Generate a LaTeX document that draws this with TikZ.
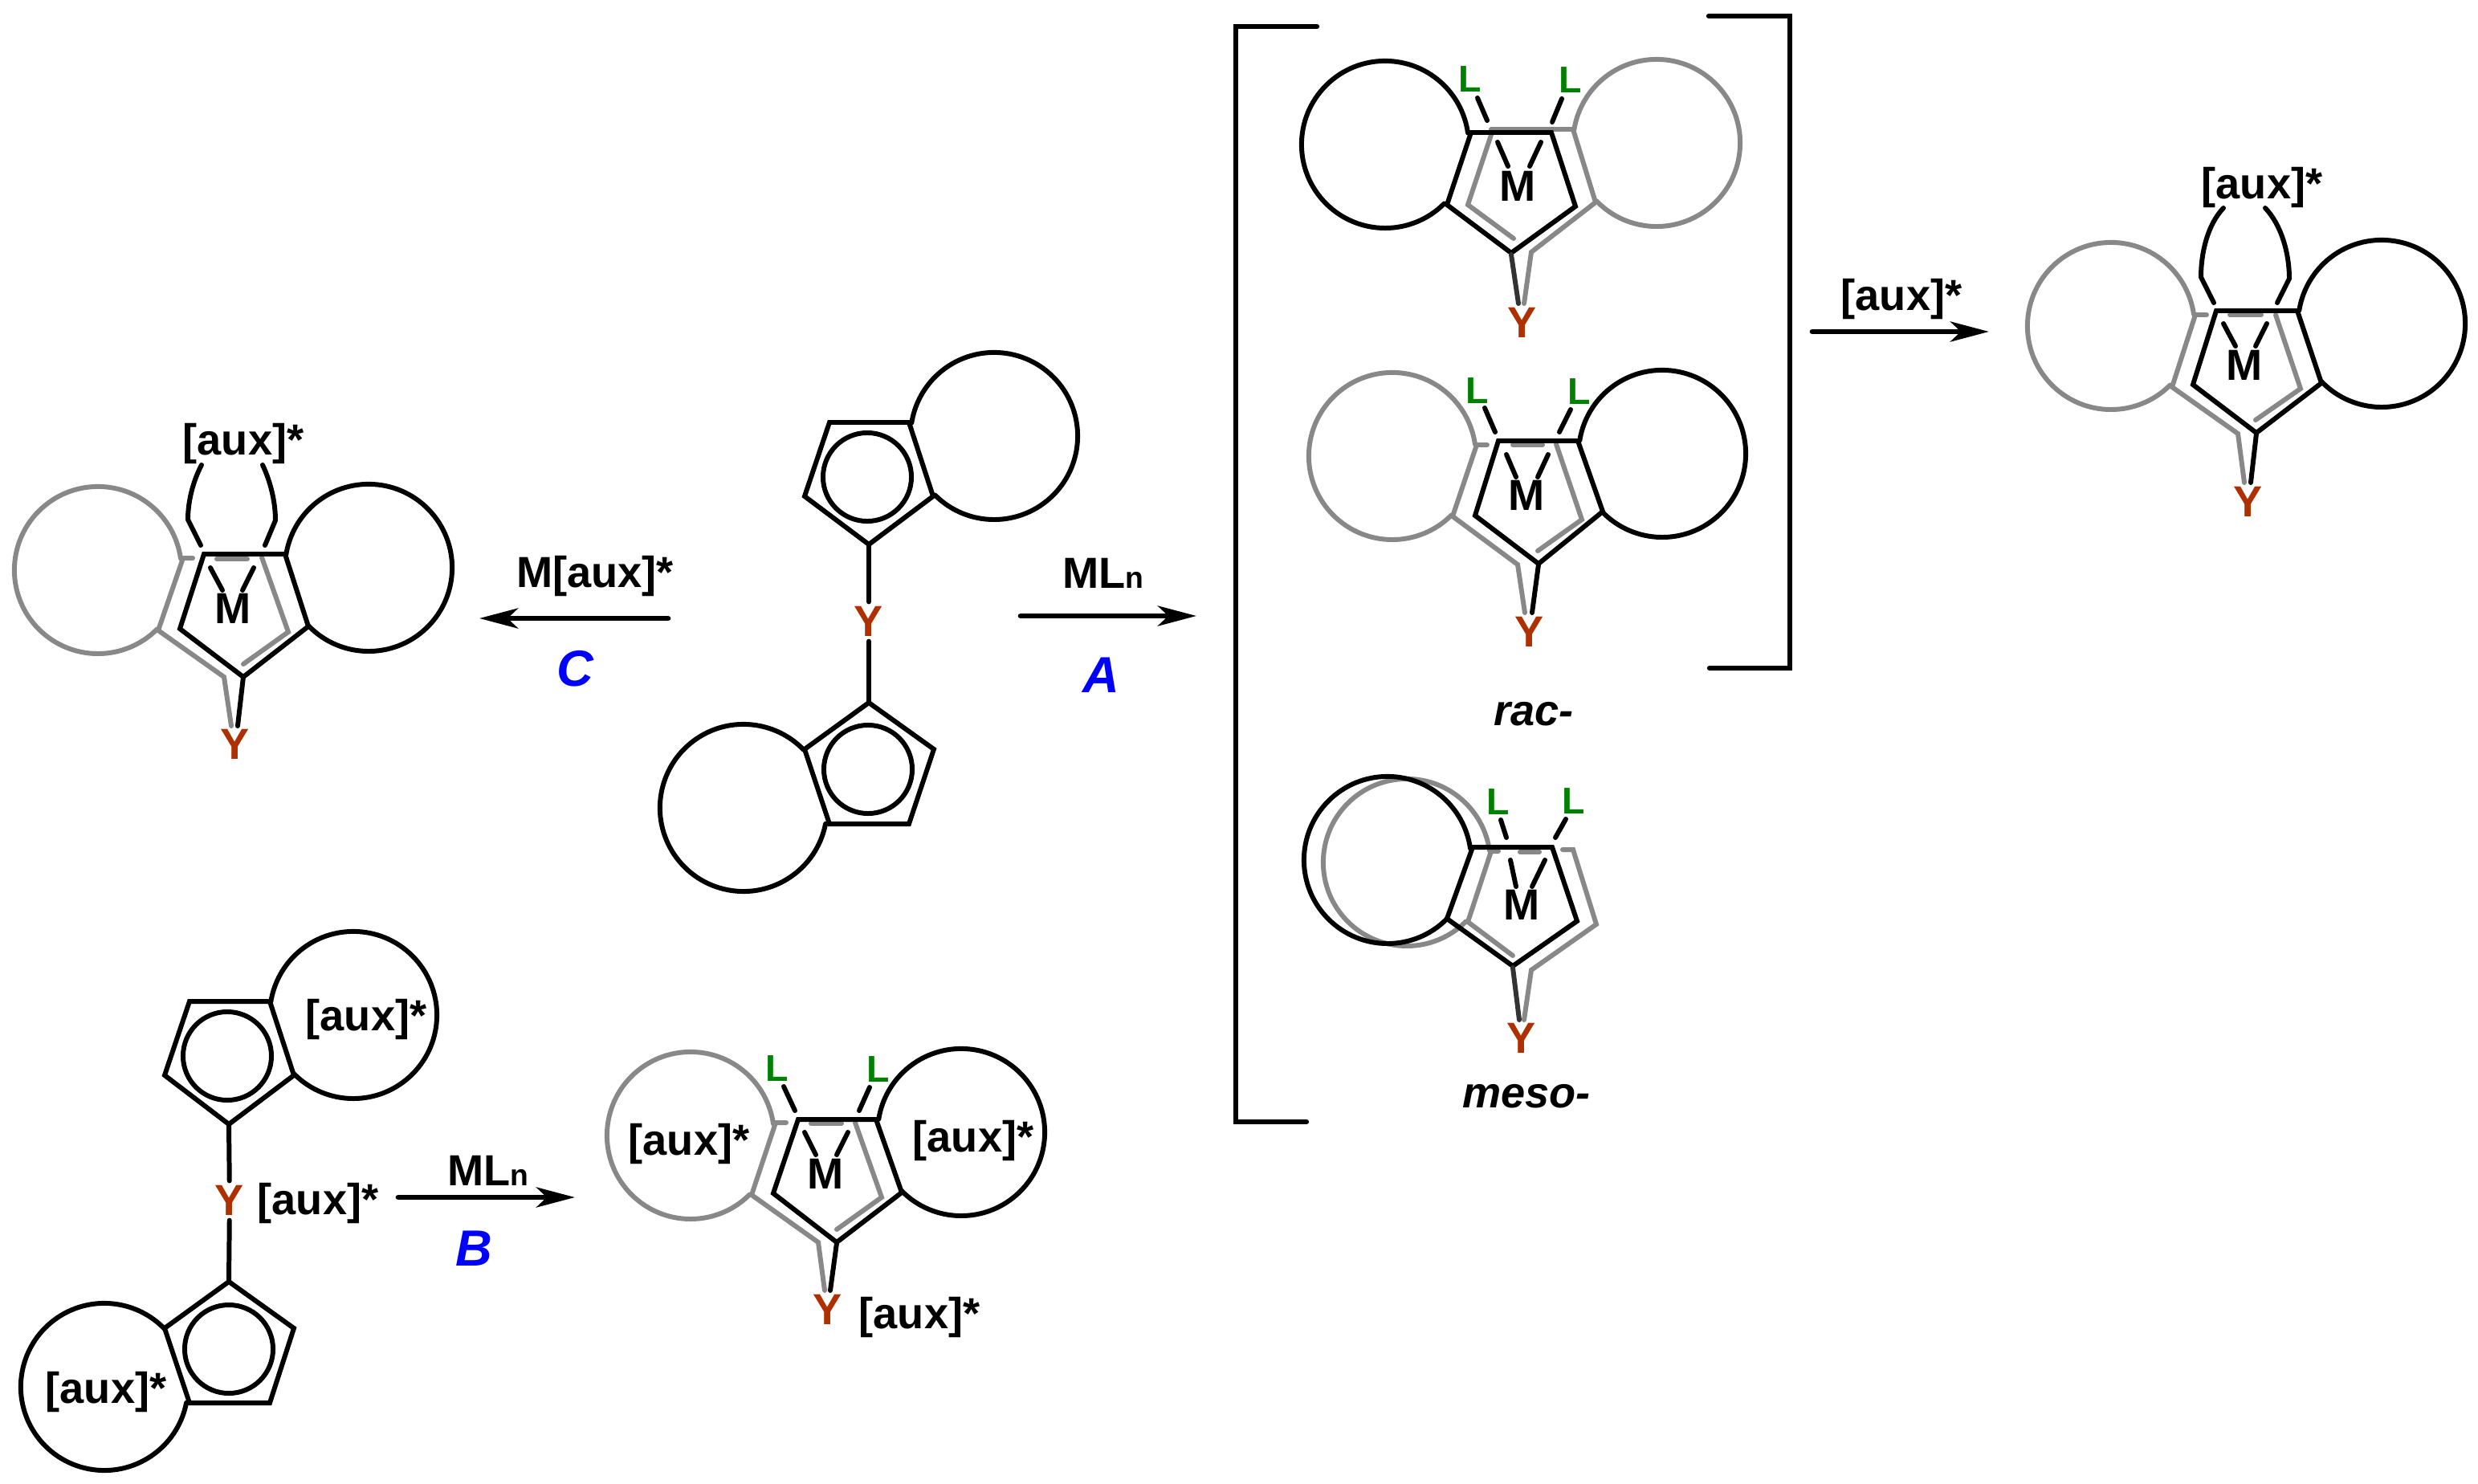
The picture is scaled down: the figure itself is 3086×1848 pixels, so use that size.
\documentclass[tikz,border=0pt]{standalone}
\usepackage{fontspec}
\setmainfont{Liberation Sans}
\usetikzlibrary{arrows.meta, positioning}
\definecolor{ygray}{HTML}{888888}
\definecolor{yred}{HTML}{AE3000}
\definecolor{lgreen}{HTML}{008000}
\tikzset{
  bond/.style={line width=1.7pt, line cap=round},
  gbond/.style={bond, draw=ygray},
  dbond/.style={bond, draw=black!80},
  hook/.style={line width=1.8pt, line cap=round},
  rxn/.style={line width=1.9pt, line cap=round, -{Stealth[length=4.8mm, width=2.5mm, inset=1.3mm]}},
  txt/.style={inner sep=0pt, font=\fontsize{15.4}{18}\selectfont\bfseries},
  ynode/.style={inner xsep=1pt, inner ysep=1.5pt, text=yred, font=\fontsize{15.4}{18}\selectfont\bfseries},
  lnode/.style={inner sep=0pt, text=lgreen, font=\fontsize{13.2}{16}\selectfont\bfseries},
  route/.style={inner sep=0pt, text=blue, font=\fontsize{18}{20}\selectfont\bfseries\itshape},
  isomer/.style={inner sep=0pt, font=\fontsize{15.4}{18}\selectfont\bfseries\itshape}
}
\begin{document}
\begin{tikzpicture}[x=0.01cm, y=0.01cm, yscale=-1]
    \useasboundingbox (0,0) rectangle (3086,1848);

    % free ligand, route A
    \node[ynode] (ya) at (1082,774) {Y};
    \coordinate (ya1) at (1082,678);
    \coordinate (ya2) at (1082,875);
    \draw[bond] (1033,526) -- (1132,526) -- (1162,618) -- (ya1) -- (1002,618) -- cycle;
    \draw[bond] (1238,543) ++(135:104) arc[start angle=135, end angle=-171, radius=1.04cm];
    \draw[bond] (1080,594) circle[radius=0.55cm];
    \draw[bond] (ya1) -- (ya);
    \draw[bond] (ya) -- (ya2);
    \draw[bond] (ya2) -- (1163,933) -- (1132,1026) -- (1033,1026) -- (1002,933) -- cycle;
    \draw[bond] (926,1006) ++(11:104) arc[start angle=11, end angle=316, radius=1.04cm];
    \draw[bond] (1081,958) circle[radius=0.55cm];

    % free ligand, route B
    \node[ynode] (yb) at (286,1495) {Y};
    \coordinate (yb1) at (285,1400);
    \coordinate (yb2) at (285,1596);
    \draw[bond] (236,1247) -- (336,1247) -- (366,1339) -- (yb1) -- (205,1339) -- cycle;
    \draw[bond] (440,1264) ++(135:104) arc[start angle=135, end angle=-171, radius=1.04cm];
    \draw[bond] (283,1315) circle[radius=0.55cm];
    \draw[bond] (yb1) -- (yb);
    \draw[bond] (yb) -- (yb2);
    \draw[bond] (yb2) -- (366,1654) -- (336,1747) -- (236,1747) -- (205,1654) -- cycle;
    \draw[bond] (130,1727) ++(11:104) arc[start angle=11, end angle=316, radius=1.04cm];
    \draw[bond] (285,1680) circle[radius=0.55cm];
    \node[txt] (auxb1) at (456,1269) {[aux]*};
    \node[txt] (auxb2) at (396,1498) {[aux]*};
    \node[txt] (auxb3) at (132,1733) {[aux]*};

    % rac, upper
    \draw[gbond] (2063,178) ++(136:104) arc[start angle=136, end angle=-171, radius=1.04cm];
    \draw[gbond] (1857,161) -- (1959,161) -- (1987,252) -- (1907,314) -- (1898,378);
    \draw[gbond] (1859,162) -- (1828,255) -- (1885,297);
    \draw[bond] (1725,180) ++(45:104) arc[start angle=45, end angle=352, radius=1.04cm];
    \draw[bond] (1832,165) -- (1932,165) -- (1962,257) -- (1882,315) -- (1802,255) -- cycle;
    \draw[dbond] (1882,317) -- (1891,378);
    \draw[bond] (1840,122) -- (1852,150);
    \draw[bond] (1945,123) -- (1933,152);
    \draw[bond] (1865,177) -- (1878,207);
    \draw[bond] (1919,177) -- (1905,207);
    \node[txt] (m1) at (1890,232) {M};
    \node[ynode] (y1) at (1896,402) {Y};
    \node[lnode] (l1a) at (1831,99) {L};
    \node[lnode] (l1b) at (1956,100) {L};

    % rac, lower
    \draw[gbond] (1734,568) ++(45:104) arc[start angle=45, end angle=352, radius=1.04cm];
    \draw[gbond] (1852,554) -- (1839,554) -- (1809,643) -- (1890,703) -- (1899,763);
    \draw[gbond] (1884,554) -- (1921,554);
    \draw[gbond] (1938,553) -- (1970,647) -- (1915,686);
    \draw[bond] (2070,565) ++(136:104) arc[start angle=136, end angle=-171, radius=1.04cm];
    \draw[bond] (1866,549) -- (1965,549) -- (1996,637) -- (1916,702) -- (1837,642) -- cycle;
    \draw[bond] (1916,703) -- (1908,763);
    \draw[bond] (1849,508) -- (1862,538);
    \draw[bond] (1956,510) -- (1942,538);
    \draw[bond] (1876,566) -- (1888,594);
    \draw[bond] (1928,566) -- (1915,594);
    \node[txt] (m2) at (1901,617) {M};
    \node[ynode] (y2) at (1905,787) {Y};
    \node[lnode] (l2a) at (1840,487) {L};
    \node[lnode] (l2b) at (1967,488) {L};
    \node[isomer] (rac) at (1910,889) {rac-};

    % meso
    \draw[gbond] (1752,1074) ++(45:104) arc[start angle=45, end angle=352, radius=1.04cm];
    \draw[gbond] (1866,1060) -- (1857,1060) -- (1828,1148) -- (1884,1190);
    \draw[gbond] (1893,1061) -- (1917,1061);
    \draw[gbond] (1946,1058) -- (1959,1058) -- (1988,1151) -- (1907,1208) -- (1898,1270);
    \draw[bond] (1728,1071) ++(45:104) arc[start angle=45, end angle=352, radius=1.04cm];
    \draw[bond] (1834,1055) -- (1933,1055) -- (1964,1147) -- (1884,1203) -- (1802,1144) -- cycle;
    \draw[dbond] (1884,1205) -- (1892,1270);
    \draw[bond] (1869,1021) -- (1876,1043);
    \draw[bond] (1950,1020) -- (1937,1043);
    \draw[bond] (1881,1071) -- (1888,1104);
    \draw[bond] (1924,1071) -- (1908,1104);
    \node[txt] (m3) at (1895,1127) {M};
    \node[ynode] (y3) at (1895,1293) {Y};
    \node[lnode] (l3a) at (1866,999) {L};
    \node[lnode] (l3b) at (1960,998) {L};
    \node[isomer] (meso) at (1901,1365) {meso-};

    % brackets
    \draw[hook, line join=miter] (1640,33) -- (1539,33) -- (1539,1397) -- (1627,1397);
    \draw[hook, line join=miter] (2128,20) -- (2229,20) -- (2229,832) -- (2129,832);

    % product, right
    \draw[gbond] (2629,406) ++(45:104) arc[start angle=45, end angle=352, radius=1.04cm];
    \draw[gbond] (2748,392) -- (2734,392) -- (2705,482) -- (2787,540) -- (2795,601);
    \draw[gbond] (2777,392) -- (2816,392);
    \draw[gbond] (2834,392) -- (2865,484) -- (2809,523);
    \draw[bond] (2966,403) ++(136:104) arc[start angle=136, end angle=-171, radius=1.04cm];
    \draw[bond] (2760,387) -- (2861,387) -- (2891,477) -- (2810,539) -- (2731,479) -- cycle;
    \draw[bond] (2810,540) -- (2803,601);
    \draw[bond] (2757,377) -- (2741,345) .. controls (2741,315) and (2749,280) .. (2769,259);
    \draw[bond] (2836,377) -- (2851,347) .. controls (2851,315) and (2841,280) .. (2821,259);
    \draw[bond] (2769,403) -- (2784,431);
    \draw[bond] (2823,403) -- (2809,431);
    \node[txt] (m4) at (2795,455) {M};
    \node[ynode] (y4) at (2800,625) {Y};
    \node[txt] (aux4) at (2817,233) {[aux]*};

    % product, left
    \draw[gbond] (122,710) ++(45:104) arc[start angle=45, end angle=352, radius=1.04cm];
    \draw[gbond] (240,695) -- (228,695) -- (197,785) -- (279,843) -- (288,904);
    \draw[gbond] (270,696) -- (308,696);
    \draw[gbond] (326,694) -- (359,787) -- (303,827);
    \draw[bond] (459,707) ++(136:104) arc[start angle=136, end angle=-171, radius=1.04cm];
    \draw[bond] (254,690) -- (355,690) -- (384,780) -- (303,843) -- (224,783) -- cycle;
    \draw[bond] (303,843) -- (296,904);
    \draw[bond] (250,679) -- (234,647) .. controls (234,625) and (240,600) .. (251,579);
    \draw[bond] (330,679) -- (343,648) .. controls (343,625) and (337,600) .. (327,579);
    \draw[bond] (262,707) -- (277,735);
    \draw[bond] (316,707) -- (302,735);
    \node[txt] (m5) at (290,758) {M};
    \node[ynode] (y5) at (293,927) {Y};
    \node[txt] (aux5) at (303,552) {[aux]*};

    % product, bottom
    \draw[gbond] (860,1414) ++(45:104) arc[start angle=45, end angle=352, radius=1.04cm];
    \draw[gbond] (979,1398) -- (966,1398) -- (936,1488) -- (1019,1547) -- (1027,1607);
    \draw[gbond] (1010,1399) -- (1048,1399);
    \draw[gbond] (1065,1398) -- (1098,1491) -- (1042,1531);
    \draw[bond] (1197,1410) ++(136:104) arc[start angle=136, end angle=-171, radius=1.04cm];
    \draw[bond] (994,1394) -- (1091,1394) -- (1123,1485) -- (1042,1547) -- (963,1486) -- cycle;
    \draw[bond] (1042,1548) -- (1034,1607);
    \draw[bond] (976,1353) -- (990,1383);
    \draw[bond] (1083,1354) -- (1070,1383);
    \draw[bond] (1002,1410) -- (1016,1438);
    \draw[bond] (1056,1410) -- (1042,1438);
    \node[txt] (m6) at (1028,1462) {M};
    \node[ynode] (y6) at (1031,1631) {Y};
    \node[lnode] (l6a) at (968,1331) {L};
    \node[lnode] (l6b) at (1094,1332) {L};
    \node[txt] (aux6a) at (858,1424) {[aux]*};
    \node[txt] (aux6b) at (1212,1420) {[aux]*};
    \node[txt] (aux6c) at (1145,1640) {[aux]*};

    % reaction arrows
    \coordinate (a1) at (1271,767);
    \coordinate (a2) at (1490,767);
    \draw[rxn] (a1) -- (a2);
    \node[txt] (mla) at (1374,714) {ML{\fontsize{10.6}{12}\selectfont n}};
    \node[route] (ra) at (1371,841) {A};

    \coordinate (c1) at (832,770);
    \coordinate (c2) at (597,770);
    \draw[rxn] (c1) -- (c2);
    \node[txt] (mc) at (741,717) {M[aux]*};
    \node[route] (rc) at (716,833) {C};

    \coordinate (b1) at (496,1491);
    \coordinate (b2) at (716,1491);
    \draw[rxn] (b1) -- (b2);
    \node[txt] (mlb) at (608,1458) {ML{\fontsize{10.6}{12}\selectfont n}};
    \node[route] (rb) at (590,1555) {B};

    \coordinate (d1) at (2257,413);
    \coordinate (d2) at (2477,413);
    \draw[rxn] (d1) -- (d2);
    \node[txt] (aux7) at (2368,372) {[aux]*};
\end{tikzpicture}
\end{document}
